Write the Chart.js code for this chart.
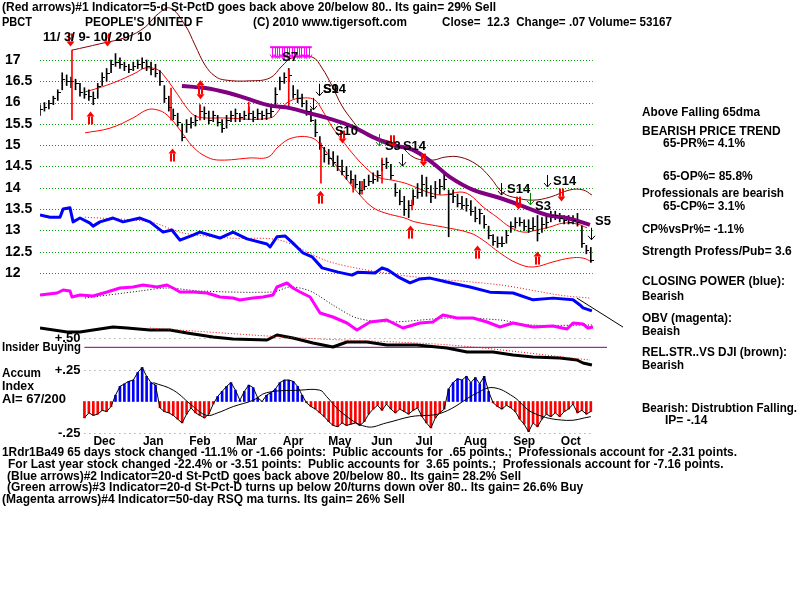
<!DOCTYPE html>
<html><head><meta charset="utf-8">
<script src="https://cdn.jsdelivr.net/npm/chart.js@4"></script>
<style>html,body{margin:0;padding:0;background:#fff}</style>
</head><body>
<canvas id="c" width="800" height="600"></canvas>
<script>
// ---------- categories / ticks ----------
const monthLabels = ['Dec','Jan','Feb','Mar','Apr','May','Jun','Jul','Aug','Sep','Oct'];
const monthTickDays = [29,51,72,93,114,135,154,173,196,218,239];
const priceTicks = [12,12.5,13,13.5,14,14.5,15,15.5,16,16.5,17];
const aiLevels = [0.5,0.25,-0.25];
const aiLevelLabels = ['+.50','+.25','-.25'];

// ---------- price bars (every 2nd trading day, day 0 = 11/3/09) ----------
const barDays = Array.from({length:125},(_,i)=>i*2);
const priceLow = [15.7,15.8,15.85,15.95,16.05,16.3,16.4,16.35,16.3,16.15,
16.1,16.05,15.95,16.1,16.4,16.5,16.7,16.85,16.8,16.75,
16.7,16.75,16.8,16.8,16.75,16.65,16.6,16.4,16.0,15.8,
15.6,15.45,15.1,15.3,15.4,15.45,15.6,15.6,15.5,15.55,
15.45,15.3,15.4,15.55,15.55,15.55,15.6,15.6,15.55,15.6,
15.6,15.6,15.65,15.9,16.3,16.45,16.5,16.1,16.0,15.9,
15.7,15.55,15.2,14.9,14.6,14.55,14.5,14.4,14.3,14.2,
14.1,14.0,13.85,13.95,14.05,14.1,14.15,14.4,14.45,14.2,
13.8,13.6,13.35,13.3,13.6,13.75,13.8,13.8,13.65,13.75,
13.85,13.95,12.85,13.65,13.55,13.5,13.45,13.35,13.2,13.15,
13.05,12.8,12.65,12.6,12.62,12.7,12.95,13.05,13.1,13.0,
12.95,13.0,12.75,12.95,13.05,13.2,13.25,13.2,13.15,13.15,
13.15,13.1,12.6,12.45,12.25];
const priceHigh = [15.95,16.0,16.05,16.15,16.3,16.7,16.65,16.6,16.55,16.45,
16.35,16.3,16.25,16.45,16.7,16.8,17.0,17.15,17.05,16.95,
16.9,16.95,17.0,17.05,17.0,16.95,16.9,16.75,16.4,16.15,
15.85,15.75,15.5,15.6,15.65,15.7,15.95,15.9,15.8,15.8,
15.7,15.6,15.7,15.8,15.85,15.75,15.8,15.9,15.8,15.85,
15.8,15.85,15.9,16.35,16.6,16.7,16.8,16.4,16.3,16.2,
16.05,15.85,15.6,15.2,14.95,14.9,14.85,14.75,14.65,14.5,
14.4,14.3,14.15,14.2,14.3,14.35,14.4,14.65,14.7,14.55,
14.1,13.95,13.8,13.7,13.95,14.1,14.3,14.25,14.05,14.15,
14.2,14.35,13.95,13.95,13.85,13.8,13.75,13.7,13.55,13.5,
13.35,13.1,12.9,12.85,12.85,13.0,13.2,13.3,13.3,13.25,
13.25,13.3,13.35,13.3,13.35,13.45,13.45,13.4,13.35,13.35,
13.35,13.4,13.1,12.65,12.6];
const priceClose = [15.85,15.9,16.0,16.1,16.25,16.55,16.5,16.5,16.45,16.25,
16.2,16.15,16.1,16.4,16.6,16.7,16.9,16.95,16.9,16.85,
16.8,16.85,16.9,16.95,16.85,16.8,16.7,16.5,16.1,15.9,
15.7,15.55,15.2,15.5,15.55,15.6,15.8,15.75,15.6,15.7,
15.55,15.4,15.6,15.7,15.75,15.65,15.7,15.75,15.65,15.75,
15.7,15.75,15.8,16.2,16.5,16.6,16.65,16.2,16.1,16.0,
15.8,15.6,15.3,15.0,14.8,14.7,14.6,14.5,14.4,14.3,
14.2,14.1,13.95,14.05,14.15,14.2,14.3,14.55,14.6,14.3,
13.9,13.7,13.5,13.6,13.8,13.9,14.1,14.0,13.8,14.0,
14.05,14.2,13.85,13.8,13.65,13.6,13.6,13.45,13.3,13.4,
13.15,12.9,12.75,12.7,12.7,12.9,13.1,13.2,13.2,13.1,
13.05,13.1,12.95,13.15,13.2,13.35,13.35,13.3,13.25,13.2,
13.25,13.2,12.7,12.55,12.3];

// red signal-day bars
const sigDays = [14.4,59,72,94,112,126.5,141,145,154,167.5];
const sigLow  = [15.6,15.59,15.59,15.76,15.9,14.11,13.9,13.85,14.11,13.48];
const sigHigh = [17.23,16.34,15.94,16.01,16.77,15.05,14.2,14.15,14.7,13.71];

// ---------- bands and averages (price units) ----------
const outerBandDays = [14.4,27,39.2,47.3,52.7,58.5,65.3,69.8,74.3,78.8,83.3,94.6,103.6,109,113.5,122.5,127,131.5,136,140.5,144.1,148.6,155.3,162.1,168.8,176.9,182.3,189.1,196.8,202.6,208.5,214.8,222,229.6,238.6,244.5,248.5];
const outerBandVals = [17.23,17.38,17.54,17.77,18.06,18.22,17.82,17.35,16.88,16.62,16.53,16.51,16.58,16.86,17.05,17.07,16.81,16.39,15.92,15.59,15.36,15.19,15.12,14.98,14.7,14.65,14.72,14.72,14.54,14.25,13.88,13.76,13.71,13.78,13.95,13.95,13.83];
const upperBandDays = [20.3,26.1,33.8,42.8,47.3,53.1,56.3,62.1,66.2,69.8,74.3,81,103.6,109,113.5,119.3,123.8,127,131.5,136,140.5,146.3,152.2,158.5,164.3,168.8,175.6,181.4,189.1,193.6,199.5,205.8,211.6,217.5,223.8,229.6,235.5,241.8,246.3];
const upperBandVals = [16.25,16.34,16.48,16.69,16.81,16.77,16.6,16.18,15.87,15.69,15.64,15.64,15.64,15.9,16.06,16.11,16.06,15.83,15.43,15.12,14.82,14.49,14.25,14.18,14.11,14.02,13.88,13.83,13.9,13.83,13.55,13.31,13.08,12.96,13.01,13.08,13.17,13.15,13.06];
const lowerBandDays = [20.3,31.5,41.9,48.2,52.7,57.2,63,68.9,75.2,81,94.6,102.7,107.2,113.5,122.5,127,131.5,137.3,143.2,149.5,155.3,164.3,168.8,181.4,193.6,199.5,207.1,214.8,222,231,238.6,244.5,248.5];
const lowerBandVals = [15.29,15.4,15.64,15.83,15.83,15.71,15.36,14.96,14.72,14.65,14.7,14.72,14.96,15.17,15.17,14.96,14.65,14.25,13.88,13.55,13.41,13.29,13.2,13.08,12.94,12.77,12.47,12.23,12.14,12.26,12.35,12.35,12.26];
const ma65Days = [63.9,74.3,84.6,92.3,102.7,112.6,120.7,129.2,140.9,149.9,158.9,167.9,176.9,184.6,195,207.1,219.3,228.3,237.3,247.6];
const ma65Vals = [16.39,16.34,16.23,16.11,15.94,15.87,15.76,15.64,15.43,15.19,15.0,14.89,14.58,14.25,13.95,13.76,13.53,13.36,13.29,13.13];

// ---------- Closing Power (blue), plotted on price scale ----------
const cpDays = [0,4.5,9,10.4,13.5,14.9,18,22.5,23.9,27,32.9,37.4,45,49.5,55.4,59.4,63,68.9,72,81,86.9,93.2,102.2,103.6,106.7,110.3,113.9,118.4,122.5,127,134.2,140.5,143.2,150.8,154,156.7,161.2,166.6,171.1,175.6,184.6,193.6,202.6,213,222,231,240,243.1,244.5,248.5];
const cpVals = [13.36,13.31,13.31,13.5,13.53,13.2,13.29,13.17,13.1,13.2,13.29,13.2,13.29,13.2,12.96,13.01,12.77,12.89,12.96,12.82,12.96,12.8,12.68,12.61,12.85,12.87,12.7,12.47,12.38,12.12,12.02,11.95,12.02,12.0,12.12,12.07,11.91,11.77,11.86,11.88,11.77,11.67,11.55,11.53,11.37,11.41,11.37,11.25,11.18,11.11];
const cpMaDays = [20.3,49.5,64.4,85.5,108.1,130.6,162.1,207.1,234.1,247.6];
const cpMaVals = [13.31,13.2,12.94,12.82,12.77,12.26,11.95,11.72,11.48,11.41];
const cpTrendDays = [241.8,262.5];
const cpTrendVals = [11.41,10.73];

// ---------- OBV (magenta) ----------
const obvDays = [0,7.7,10.4,13.5,14.4,18,23.9,30.2,36,41.9,46.4,52.7,57.2,59.9,63,68.9,75.2,81,86.9,90,95.9,100.4,104.9,106.7,111.2,113.9,117.1,121.6,126.1,131.9,138.2,142.7,148.6,156.2,163.4,171.1,176.9,181.4,187.8,195,201.3,207.1,213,222,231,237.3,240,244.5,246.7,249];
const obvVals = [9,9.4,10,9.8,8.6,9,8.8,9.6,10.4,10.6,11,10.6,11,10.4,9.6,9.6,9.4,8.6,8.4,8,8.4,8.6,9,10.6,11.4,10.4,9.6,8.6,5.4,4.6,3.4,2,3.6,4,2.4,3.4,3.6,5,4.4,4.4,3.6,2.6,3.4,2.6,2.8,2.2,3.4,3.2,2.4,2.6];
const obvMaDays = [20.3,45,57.2,72,104.9,112.6,121.6,131.9,142.7,157.6,184.6,207.1,220.6,249];
const obvMaVals = [8.4,9.8,10.4,9.8,9.6,10.6,9.8,7,4.4,3.6,4.4,4,3,3];

// ---------- Relative strength vs DJI ----------
const rsDays = [0,12.2,18,23.9,32.9,39.2,49.5,58.5,66.2,77.9,86.9,102.2,106.7,113.9,122.9,131.9,138.2,147.2,156.2,169.7,183.2,192.3,204,213,222,234.1,241.8,244.5,248.5];
const rsVals = [6.4,5.6,5.6,6,6.6,6.4,6,6,5.4,4.6,4.2,4,5,4.4,3.4,2.6,3.6,3.6,3,3,2.4,1.6,1.6,1,0.6,0.4,0,-0.6,-1];
const rsMaDays = [49.5,117.1,184.6,247.6];
const rsMaVals = [6.4,4.4,3,0];

// ---------- Insider buying & Accumulation Index ----------
const insiderDays = [20,255.3];
const insiderVals = [0.43,0.43];
const aiDays = Array.from({length:115},(_,i)=>20+i*2);
const aiVals = [-0.13,-0.09,-0.11,-0.10,-0.07,-0.08,-0.04,0.05,0.12,0.14,
0.16,0.17,0.23,0.27,0.2,0.15,0.13,-0.05,-0.08,-0.09,
-0.11,-0.14,-0.17,-0.1,-0.05,-0.09,-0.11,-0.13,-0.1,-0.02,
0.04,0.08,0.12,0.15,0.09,0.01,0.08,0.13,0.11,0.03,
0.0,0.05,0.07,0.1,0.15,0.17,0.17,0.16,0.12,0.05,
-0.01,-0.04,-0.06,-0.09,-0.12,-0.16,-0.19,-0.2,-0.17,-0.19,
-0.18,-0.17,-0.19,-0.16,-0.1,-0.06,-0.03,-0.07,-0.02,-0.06,
-0.09,-0.06,-0.08,-0.1,-0.07,-0.05,-0.12,-0.17,-0.21,-0.13,
-0.09,-0.06,0.1,0.15,0.18,0.17,0.2,0.15,0.19,0.14,
0.2,0.08,-0.01,-0.04,-0.06,-0.03,-0.05,-0.08,-0.14,-0.18,
-0.24,-0.17,-0.2,-0.14,-0.1,-0.12,-0.09,-0.12,-0.08,-0.06,
-0.02,-0.09,-0.07,-0.1,-0.08];
const aiMaDays = [51,60,69,75,80,87,96,102,117,126,129,136,147,156,167,181,197,204,213,222,237,248];
const aiMaVals = [0.15,0.09,-0.04,-0.11,-0.09,-0.04,0.01,0.07,0.09,0.09,0.04,-0.09,-0.2,-0.17,-0.12,-0.09,0.07,0.11,0.04,-0.09,-0.15,-0.12];

// ---------- signal arrows and labels ----------
const redDownDays = [13.5,30.2,136,158.5,172.4,215.2,234.6];
const redDownVals = [17.47,17.47,15.19,15.08,14.65,13.64,13.83];
const redUpDays = [22.5,59.4,126.1,166.6,196.8,223.8];
const redUpVals = [15.64,14.77,13.78,12.96,12.49,12.35];
const redBothDays = [72];
const redBothVals = [16.3];
const magentaDays = [104.5,105.6,106.7,107.8,108.9,110,111.1,112.2,113.3,114.4,115.5,116.6,117.7,118.8,119.9,121];
const magentaTop = 17.3, magentaBottom = 17.06;
const sigLabels = ['S7','S9','S14','S10','S3','S14','S14','S3','S14','S5'];
const sigLabelDays = [109,127.4,127.4,132.8,155.3,163.4,210.3,222.9,231,249.9];
const sigLabelVals = [17.05,16.3,16.3,15.33,14.96,14.96,13.97,13.57,14.16,13.2];
const blackArrowDays = [125.6,122.9,163,207.5,228.3,248.1];
const blackArrowVals = [16.3,15.97,14.65,13.97,14.16,12.92];
const greenArrowDays = [152.6,220.6];
const greenArrowVals = [15.12,13.74];

const F = "'Liberation Sans', Arial, sans-serif";

function drawArrow(ctx, cx, cy, dir, color){
  const h = 13, w = 8;
  const tip = cy + dir*h/2, base = cy - dir*h/2, head = tip - dir*5;
  ctx.fillStyle = color;
  ctx.beginPath(); ctx.moveTo(cx+0.5, tip); ctx.lineTo(cx+0.5-w/2, head); ctx.lineTo(cx+0.5+w/2, head); ctx.closePath(); ctx.fill();
  const top = Math.min(head, base), hh = Math.abs(head-base);
  ctx.fillRect(cx-2, top, 2, hh);
  ctx.fillRect(cx+1, top, 2, hh);
}
function thinArrow(ctx, cx, cy, color){
  const x = Math.round(cx) + 0.5;
  ctx.strokeStyle = color; ctx.lineWidth = 1;
  ctx.beginPath(); ctx.moveTo(x, cy-6); ctx.lineTo(x, cy+6); ctx.stroke();
  ctx.beginPath(); ctx.moveTo(x-3.5, cy+2); ctx.lineTo(x, cy+6); ctx.lineTo(x+3.5, cy+2); ctx.stroke();
}

const tiger = {
  id: 'tiger',
  beforeDatasetsDraw(chart){
    const {ctx, scales} = chart;
    const x = scales.x, y = scales.y, yAI = scales.yAI;
    ctx.save();
    ctx.lineWidth = 1;
    ctx.setLineDash([1,2]);
    ctx.strokeStyle = '#00a000';
    const x0 = x.getPixelForValue(barDays[0]);
    const x1 = x.getPixelForValue(barDays[barDays.length-1]) + 2;
    priceTicks.forEach(v=>{
      const py = Math.round(y.getPixelForValue(v)) + 0.5;
      ctx.beginPath(); ctx.moveTo(x0,py); ctx.lineTo(x1,py); ctx.stroke();
    });
    ctx.strokeStyle = '#888';
    const xa = x.getPixelForValue(aiDays[0]);
    ctx.setLineDash([1,4]);
    aiLevels.forEach(v=>{
      const py = Math.round(yAI.getPixelForValue(v)) + 0.5;
      ctx.beginPath(); ctx.moveTo(xa,py); ctx.lineTo(x1,py); ctx.stroke();
    });
    ctx.setLineDash([]);
    ctx.fillStyle = '#000';
    ctx.font = "bold 13px " + F;
    ctx.textAlign = 'right'; ctx.textBaseline = 'middle';
    aiLevels.forEach((v,i)=>{
      ctx.fillText(aiLevelLabels[i], xa-4, yAI.getPixelForValue(v));
    });
    ctx.restore();
  },
  afterDatasetsDraw(chart){
    const {ctx, scales} = chart;
    const x = scales.x, y = scales.y;
    ctx.save();
    ctx.strokeStyle = '#000'; ctx.lineWidth = 1;
    barDays.forEach((d,i)=>{
      const px = Math.round(x.getPixelForValue(d));
      const py = Math.round(y.getPixelForValue(priceClose[i])) + 0.5;
      ctx.beginPath(); ctx.moveTo(px, py); ctx.lineTo(px+3, py); ctx.stroke();
    });
    ctx.strokeStyle = '#ff00ff'; ctx.fillStyle = '#ff00ff';
    const mt = y.getPixelForValue(magentaTop), mb = y.getPixelForValue(magentaBottom);
    magentaDays.forEach(d=>{
      const px = Math.round(x.getPixelForValue(d)) + 0.5;
      ctx.beginPath(); ctx.moveTo(px, mt); ctx.lineTo(px, mb); ctx.stroke();
      ctx.beginPath(); ctx.moveTo(px-2.5, mb-3); ctx.lineTo(px, mb+1); ctx.lineTo(px+2.5, mb-3); ctx.stroke();
    });
    ctx.fillRect(x.getPixelForValue(magentaDays[0])-2, mt-1, x.getPixelForValue(magentaDays[magentaDays.length-1]) - x.getPixelForValue(magentaDays[0]) + 5, 2);
    redDownDays.forEach((d,i)=>drawArrow(ctx, Math.round(x.getPixelForValue(d)), y.getPixelForValue(redDownVals[i]), 1, '#ff0000'));
    redUpDays.forEach((d,i)=>drawArrow(ctx, Math.round(x.getPixelForValue(d)), y.getPixelForValue(redUpVals[i]), -1, '#ff0000'));
    redBothDays.forEach((d,i)=>{
      const px = Math.round(x.getPixelForValue(d)), py = y.getPixelForValue(redBothVals[i]);
      drawArrow(ctx, px, py-3, -1, '#ff0000');
      drawArrow(ctx, px, py+3, 1, '#ff0000');
    });
    blackArrowDays.forEach((d,i)=>thinArrow(ctx, x.getPixelForValue(d), y.getPixelForValue(blackArrowVals[i]), '#000'));
    greenArrowDays.forEach((d,i)=>thinArrow(ctx, x.getPixelForValue(d), y.getPixelForValue(greenArrowVals[i]), '#008000'));
    ctx.font = "bold 13px " + F;
    ctx.textAlign = 'left'; ctx.textBaseline = 'middle';
    ctx.fillStyle = '#000';
    sigLabels.forEach((t,i)=>{
      ctx.fillText(t, x.getPixelForValue(sigLabelDays[i]), y.getPixelForValue(sigLabelVals[i]));
    });
    ctx.restore();
  },
  afterDraw(chart){
    const ctx = chart.ctx;
    ctx.save();
    ctx.fillStyle = '#000';
    ctx.textAlign = 'left'; ctx.textBaseline = 'middle';
    const T = (t, px, py, w, size) => {
      ctx.font = "bold " + (size||12) + "px " + F;
      if (w) ctx.fillText(t, px, py, w); else ctx.fillText(t, px, py);
    };
    T('(Red arrows)#1 Indicator=5-d St-PctD goes back above 20/below 80.. Its gain= 29% Sell', 2, 8, 498);
    T('PBCT', 2, 23, 30);
    T("PEOPLE'S UNITED F", 85, 23, 118);
    T('(C) 2010 www.tigersoft.com', 253, 23, 154);
    T('Close=  12.3  Change= .07 Volume= 53167', 442, 23, 230);
    T('11/ 3/ 9- 10/ 29/ 10', 43, 37, 121, 13);
    T('Insider Buying', 2, 347, 79, 13);
    T('Accum', 2, 373, 39, 13);
    T('Index', 2, 386, 32, 13);
    T('AI= 67/200', 2, 399, 64, 13);
    const R = 642, R2 = 663;
    T('Above Falling 65dma', R, 113, 118);
    T('BEARISH PRICE TREND', R, 132, 142);
    T('65-PR%= 4.1%', R2, 144, 82);
    T('65-OP%= 85.8%', R2, 177, 90);
    T('Professionals are bearish', R, 194, 142);
    T('65-CP%= 3.1%', R2, 207, 82);
    T('CP%vsPr%= -1.1%', R, 230, 102);
    T('Strength Profess/Pub= 3.6', R, 252, 152);
    T('CLOSING POWER (blue):', R, 282, 143);
    T('Bearish', R, 297, 42);
    T('OBV (magenta):', R, 319, 90);
    T('Beaish', R, 332, 38);
    T('REL.STR..VS DJI (brown):', R, 353, 145);
    T('Bearish', R, 366, 42);
    T('Bearish: Distrubtion Falling.', R, 409, 155);
    T('IP= -.14', 665, 421, 45);
    T('1Rdr1Ba49 65 days stock changed -11.1% or -1.66 points:  Public accounts for  .65 points.;  Professionals account for -2.31 points.', 2, 453, 735);
    T('For Last year stock changed -22.4% or -3.51 points:  Public accounts for  3.65 points.;  Professionals account for -7.16 points.', 8, 465, 716);
    T('(Blue arrows)#2 Indicator=20-d St-PctD goes back above 20/below 80.. Its gain= 28.2% Sell', 7, 477, 523);
    T('(Green arrows)#3 Indicator=20-d St-Pct-D turns up below 20/turns down over 80.. Its gain= 26.6% Buy', 7, 488, 578);
    T('(Magenta arrows)#4 Indicator=50-day RSQ ma turns. Its gain= 26% Sell', 2, 500, 403);
    ctx.restore();
  }
};

const pts = (ds, vs) => ds.map((d,i)=>({x:d, y:vs[i]}));
const lineBase = {type:'line', pointRadius:0, fill:false, tension:0, borderJoinStyle:'round'};
const noPad = s => { s.paddingTop = 0; s.paddingBottom = 0; s.paddingLeft = 0; s.paddingRight = 0; };

const chart = new Chart(document.getElementById('c'), {
  type: 'line',
  data: {
    datasets: [
      {...lineBase, label:'Outer band', data: pts(outerBandDays, outerBandVals), borderColor:'#800000', borderWidth:1, tension:0.4, yAxisID:'y', order:9},
      {...lineBase, label:'Upper band', data: pts(upperBandDays, upperBandVals), borderColor:'#ff0000', borderWidth:1, tension:0.4, yAxisID:'y', order:9},
      {...lineBase, label:'Lower band', data: pts(lowerBandDays, lowerBandVals), borderColor:'#ff0000', borderWidth:1, tension:0.4, yAxisID:'y', order:9},
      {type:'bar', label:'Price', data: barDays.map((d,i)=>({x:d, y:[priceLow[i], priceHigh[i]]})), backgroundColor:'#000', borderWidth:0, barThickness:1, grouped:false, yAxisID:'y', order:8},
      {type:'bar', label:'Signal days', data: sigDays.map((d,i)=>({x:d, y:[sigLow[i], sigHigh[i]]})), backgroundColor:'#ff0000', borderWidth:0, barThickness:1, grouped:false, yAxisID:'y', order:7},
      {...lineBase, label:'65-dma', data: pts(ma65Days, ma65Vals), borderColor:'#800080', borderWidth:4, tension:0.4, yAxisID:'y', order:6},
      {...lineBase, label:'CP MA', data: pts(cpMaDays, cpMaVals), borderColor:'#ff0000', borderWidth:1, borderDash:[1,2], tension:0.3, yAxisID:'y', order:6},
      {...lineBase, label:'Closing Power', data: pts(cpDays, cpVals), borderColor:'#0000ff', borderWidth:3, yAxisID:'y', order:5},
      {...lineBase, label:'CP trend', data: pts(cpTrendDays, cpTrendVals), borderColor:'#000', borderWidth:1, yAxisID:'y', order:5},
      {...lineBase, label:'OBV MA', data: pts(obvMaDays, obvMaVals), borderColor:'#000', borderWidth:1, borderDash:[1,2], tension:0.3, yAxisID:'yOBV', order:6},
      {...lineBase, label:'OBV', data: pts(obvDays, obvVals), borderColor:'#ff00ff', borderWidth:3, yAxisID:'yOBV', order:5},
      {...lineBase, label:'RS MA', data: pts(rsMaDays, rsMaVals), borderColor:'#ff0000', borderWidth:1, borderDash:[1,2], tension:0.3, yAxisID:'yRS', order:4},
      {...lineBase, label:'Rel. strength', data: pts(rsDays, rsVals), borderColor:'#000', borderWidth:3, yAxisID:'yRS', order:5},
      {...lineBase, label:'Insider buying', data: pts(insiderDays, insiderVals), borderColor:'#800080', borderWidth:1, yAxisID:'yAI', order:5},
      {type:'bar', label:'Accum Index', data: pts(aiDays, aiVals), backgroundColor: aiVals.map(v=>v>=0?'#0000ff':'#ff0000'), borderWidth:0, barThickness:2, grouped:false, yAxisID:'yAI', order:6},
      {...lineBase, label:'AI outline', data: pts(aiDays, aiVals), borderColor:'#000', borderWidth:1, yAxisID:'yAI', order:4},
      {...lineBase, label:'AI MA', data: pts(aiMaDays, aiMaVals), borderColor:'#000', borderWidth:1, tension:0.4, yAxisID:'yAI', order:4}
    ]
  },
  options: {
    responsive: false,
    animation: false,
    devicePixelRatio: 1,
    layout: {padding: {left:5, right:175, top:0, bottom:147}},
    plugins: {legend:{display:false}, tooltip:{enabled:false}},
    scales: {
      x: {
        type:'linear', min:0, max:263.4, offset:false,
        grid:{display:false, drawTicks:false}, border:{display:false},
        afterBuildTicks: s => { s.ticks = monthTickDays.map(v=>({value:v})); },
        afterFit: s => { s.height = 20; noPad(s); },
        ticks:{autoSkip:false, maxRotation:0, minRotation:0, padding:1, color:'#000', font:{family:F, size:12, weight:'bold'},
          callback:(v,i)=>monthLabels[i]}
      },
      y: {
        type:'linear', position:'left', min:8.244, max:18.408,
        grid:{display:false, drawTicks:false}, border:{display:false},
        afterBuildTicks: s => { s.ticks = priceTicks.map(v=>({value:v})); },
        afterFit: s => { s.width = 35; noPad(s); },
        ticks:{crossAlign:'far', padding:0, color:'#000', font:{family:F, size:14, weight:'bold'}, callback: v => String(v)}
      },
      yAI: {type:'linear', display:false, min:-0.25, max:3.1865},
      yOBV: {type:'linear', display:false, min:-18.6, max:68},
      yRS: {type:'linear', display:false, min:-14.6, max:72}
    }
  },
  plugins: [tiger]
});
</script>
</body></html>
